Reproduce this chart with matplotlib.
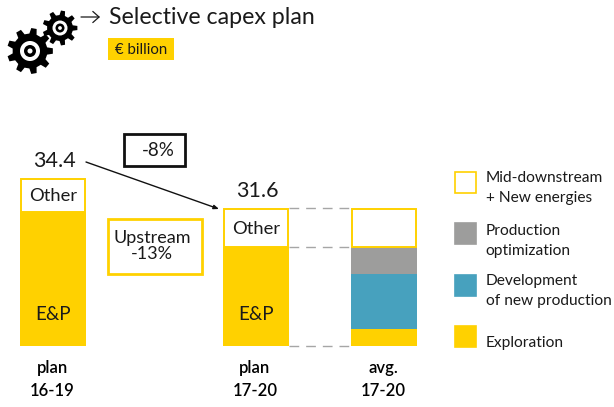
import numpy as np
import matplotlib
matplotlib.use("Agg")
import matplotlib.pyplot as plt
from matplotlib.patches import Polygon, Circle, Rectangle

plt.rcParams["font.family"] = ["Lato", "DejaVu Sans"]

YELLOW = "#ffd100"
GREY = "#9d9d9c"
BLUE = "#47a1be"
TEXT = "#1a1a1a"

# segment heights (the source bars are not to one scale)
bar_lefts = [20, 223, 351]
bar_width = 66
base_y = 346
plan_1619 = [134, 34]
plan_1720 = [99, 39]
avg_1720 = [17, 55, 27, 39]
totals = ["34.4", "31.6"]
bar_labels = ["plan\n16-19", "plan\n17-20", "avg.\n17-20"]
legend_labels = ["Mid-downstream\n+ New energies", "Production\noptimization",
                 "Development\nof new production", "Exploration"]


def gear(ax, cx, cy, r_out, r_in, r_hole, r_dot, teeth):
  angles = []
  radii = []
  step = 2 * np.pi / teeth
  for i in range(teeth):
    a = i * step
    angles += [a - step * 0.30, a - step * 0.17, a + step * 0.17, a + step * 0.30]
    radii += [r_in, r_out, r_out, r_in]
  xs = cx + np.array(radii) * np.cos(angles)
  ys = cy + np.array(radii) * np.sin(angles)
  ax.add_patch(Polygon(np.column_stack([xs, ys]), closed=True, color="black", lw=0))
  ax.add_patch(Circle((cx, cy), r_hole, color="white", lw=0))
  ax.add_patch(Circle((cx, cy), r_dot, color="black", lw=0))
  ax.add_patch(Circle((cx, cy), r_dot * 0.42, color="white", lw=0))


fig = plt.figure(figsize=(6.14, 4.07), dpi=100)
ax = fig.add_axes([0, 0, 1, 1])
ax.set_xlim(0, 614)
ax.set_ylim(407, 0)
ax.axis("off")

# icon + title
gear(ax, 30, 51, 23, 17.5, 10, 6, 9)
gear(ax, 60, 28, 17.5, 13, 7.5, 4.5, 9)
ax.annotate("", xy=(100, 17), xytext=(81, 17),
            arrowprops=dict(arrowstyle="->,head_length=0.45,head_width=0.4", color=TEXT, lw=0.9,
                            shrinkA=0, shrinkB=0))
ax.text(109, 18, "Selective capex plan", fontsize=16.7, color=TEXT, va="center", ha="left")
ax.add_patch(Rectangle((108, 38), 66, 22, color=YELLOW, lw=0))
ax.text(115, 49.5, "€ billion", fontsize=10.8, color=TEXT, va="center", ha="left")

# bars
x = bar_lefts[0]
ax.bar(x, -plan_1619[0], bottom=base_y, width=bar_width, align="edge", color=YELLOW, lw=0)
ax.bar(x + 0.75, -(plan_1619[1] - 0.75), bottom=base_y - plan_1619[0], width=bar_width - 1.5, align="edge",
       facecolor="white", edgecolor=YELLOW, lw=1.4)

x = bar_lefts[1]
ax.bar(x, -plan_1720[0], bottom=base_y, width=bar_width, align="edge", color=YELLOW, lw=0)
ax.bar(x + 0.75, -(plan_1720[1] - 0.75), bottom=base_y - plan_1720[0], width=bar_width - 1.5, align="edge",
       facecolor="white", edgecolor=YELLOW, lw=1.4)

x = bar_lefts[2]
bottom = base_y
for h, col in zip(avg_1720[:3], [YELLOW, BLUE, GREY]):
  ax.bar(x, -h, bottom=bottom, width=bar_width, align="edge", color=col, lw=0)
  bottom -= h
ax.bar(x + 0.75, -(avg_1720[3] - 0.75), bottom=bottom, width=bar_width - 1.5, align="edge",
       facecolor="white", edgecolor=YELLOW, lw=1.4)

# dashed connectors
for y in [base_y, base_y - plan_1720[0], base_y - sum(plan_1720)]:
  ax.plot([bar_lefts[1] + bar_width, bar_lefts[2]], [y, y], color="#a6a6a6", lw=1, dashes=(7, 5))

# texts on bars
for i, left in enumerate(bar_lefts[:2]):
  bar = [plan_1619, plan_1720][i]
  ax.text(left + bar_width / 2, base_y - 31, "E&P", fontsize=13.5, color=TEXT, ha="center", va="center")
  ax.text(left + bar_width / 2 + 0.5, base_y - bar[0] - bar[1] / 2 + 1, "Other", fontsize=13.2, color=TEXT,
          ha="center", va="center")
  ax.text(left + bar_width / 2 + 1, base_y - sum(bar) - 17, totals[i], fontsize=15.5, color=TEXT,
          ha="center", va="center")

for left, label in zip(bar_lefts, bar_labels):
  a, b = label.split("\n")
  ax.text(left + bar_width / 2 - 1, 368, a, fontsize=12, color="black", ha="center", va="center", fontweight="semibold")
  ax.text(left + bar_width / 2 - 1, 391, b, fontsize=12, color="black", ha="center", va="center", fontweight="semibold")

# callouts
ax.add_patch(Rectangle((123.5, 134), 61, 32, facecolor="white", edgecolor="#111111", lw=2))
ax.text(158, 150, "-8%", fontsize=13.5, color=TEXT, ha="center", va="center")
ax.annotate("", xy=(219, 209), xytext=(86, 162),
            arrowprops=dict(arrowstyle="-|>,head_length=0.3,head_width=0.12", color="#111111", lw=1,
                            shrinkA=0, shrinkB=0))
ax.add_patch(Rectangle((107.5, 219), 94, 55, facecolor="white", edgecolor=YELLOW, lw=2))
ax.text(152, 246, "Upstream\n-13%", fontsize=13, color=TEXT, ha="center", va="center", linespacing=1.0)

# legend
legend_tops = [172, 223, 275, 326]
legend_cols = ["white", GREY, BLUE, YELLOW]
legend_text_y = [188, 241, 291, 343]
for top, col, label, ty in zip(legend_tops, legend_cols, legend_labels, legend_text_y):
  ec = YELLOW if col == "white" else col
  ax.add_patch(Rectangle((454.5, top), 21, 21, facecolor=col, edgecolor=ec, lw=1.2))
  ax.text(485.5, ty, label, fontsize=11.2, color=TEXT, ha="left", va="center", linespacing=1.6)

fig.savefig("out.png", dpi=100)
